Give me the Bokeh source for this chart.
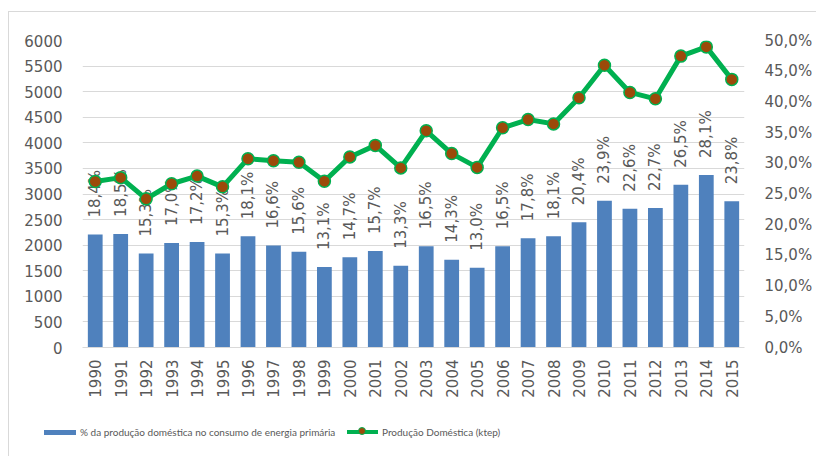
import math
from bokeh.plotting import figure
from bokeh.layouts import column
from bokeh.models import (ColumnDataSource, Range1d, LinearAxis, FixedTicker,
                          CustomJSTickFormatter, Div)
from bokeh.core.properties import value
from bokeh.embed import file_html
from bokeh.resources import INLINE

years = [str(y) for y in range(1990, 2016)]
pct_share = [18.4, 18.5, 15.3, 17.0, 17.2, 15.3, 18.1, 16.6, 15.6, 13.1, 14.7, 15.7, 13.3,
             16.5, 14.3, 13.0, 16.5, 17.8, 18.1, 20.4, 23.9, 22.6, 22.7, 26.5, 28.1, 23.8]
production = [3245, 3320, 2905, 3200, 3350, 3140, 3690, 3650, 3620, 3250, 3725, 3950, 3510,
              4235, 3790, 3520, 4295, 4455, 4370, 4880, 5515, 4985, 4860, 5695, 5875, 5240]
left_ticks = list(range(0, 6001, 500))
right_ticks = [0, 5, 10, 15, 20, 25, 30, 35, 40, 45, 50]
series_names = ["% da produção doméstica no consumo de energia primária",
                "Produção Doméstica (ktep)"]

labels = [("%.1f" % v).replace(".", ",") + "%" for v in pct_share]
src = ColumnDataSource(dict(x=years, pct=pct_share, prod=production, lab=labels))

GRAY = "#595959"
FONT = "DejaVu Sans"
BLUE = "#4F81BD"
GREEN = "#00B050"
BROWN = "#9C4A0A"

p = figure(x_range=years, y_range=Range1d(0, 6000), width=807, height=388,
           min_border_left=73, min_border_right=72, min_border_top=28, min_border_bottom=53,
           output_backend="svg", toolbar_location=None,
           background_fill_color="white", border_fill_color="white")
p.outline_line_color = None
p.extra_y_ranges = {"pct": Range1d(0, 50)}

p.vbar(x="x", top="pct", width=0.58, source=src, y_range_name="pct",
       fill_color=BLUE, line_color=None)
p.text(x="x", y="pct", text="lab", source=src, y_range_name="pct",
       angle=math.pi / 2, text_align="left", text_baseline="middle",
       y_offset=-17, text_font=value(FONT), text_font_size="15px", text_color=GRAY)

p.line(x="x", y="prod", source=src, line_color=GREEN, line_width=5)
p.scatter(x="x", y="prod", source=src, size=12, fill_color=BROWN,
          line_color=GREEN, line_width=1.5)

ya = p.yaxis[0]
ya.ticker = FixedTicker(ticks=left_ticks)
ya.axis_line_color = None
ya.major_tick_line_color = None
ya.minor_tick_line_color = None
ya.major_label_text_font = FONT
ya.major_label_text_font_size = "15px"
ya.major_label_text_color = GRAY
ya.major_label_standoff = 14

ra = LinearAxis(y_range_name="pct", ticker=FixedTicker(ticks=right_ticks),
                formatter=CustomJSTickFormatter(code="return tick.toFixed(1).replace('.', ',') + '%';"))
ra.axis_line_color = None
ra.major_tick_line_color = None
ra.minor_tick_line_color = None
ra.major_label_text_font = FONT
ra.major_label_text_font_size = "15px"
ra.major_label_text_color = GRAY
ra.major_label_standoff = 14
p.add_layout(ra, "right")

xa = p.xaxis[0]
xa.major_label_orientation = math.pi / 2
xa.axis_line_color = "#D9D9D9"
xa.axis_line_width = 1
xa.major_tick_line_color = None
xa.minor_tick_line_color = None
xa.major_label_text_font = FONT
xa.major_label_text_font_size = "15px"
xa.major_label_text_color = GRAY
xa.major_label_standoff = 6

p.xgrid.grid_line_color = None
p.ygrid.grid_line_color = "#D9D9D9"
p.ygrid.grid_line_width = 1
p.ygrid.ticker = FixedTicker(ticks=left_ticks)

# legend strip (HTML, so that it may sit left of the plot frame)
legend_html = f"""
<div style="position:relative;width:807px;height:56px;font-family:Lato,'Liberation Sans',sans-serif;
            font-size:10px;color:{GRAY};line-height:14px;white-space:nowrap;">
  <span style="position:absolute;left:35px;top:30px;width:32px;height:5px;background:{BLUE};"></span>
  <span style="position:absolute;left:71px;top:25px;">{series_names[0]}</span>
  <span style="position:absolute;left:338px;top:30px;width:31px;height:4px;background:{GREEN};"></span>
  <span style="position:absolute;left:349px;top:27px;width:8px;height:8px;border-radius:50%;
               background:{BROWN};border:1px solid {GREEN};box-sizing:border-box;"></span>
  <span style="position:absolute;left:373px;top:25px;">{series_names[1]}</span>
</div>
"""
lg = Div(text=legend_html, width=807, height=56, margin=0)

layout = column(p, lg, spacing=0, margin=(11, 0, 0, 8),
                styles={"border-left": "1px solid #D9D9D9", "border-top": "1px solid #D9D9D9"})
open("out.html", "w").write(file_html(layout, INLINE))
